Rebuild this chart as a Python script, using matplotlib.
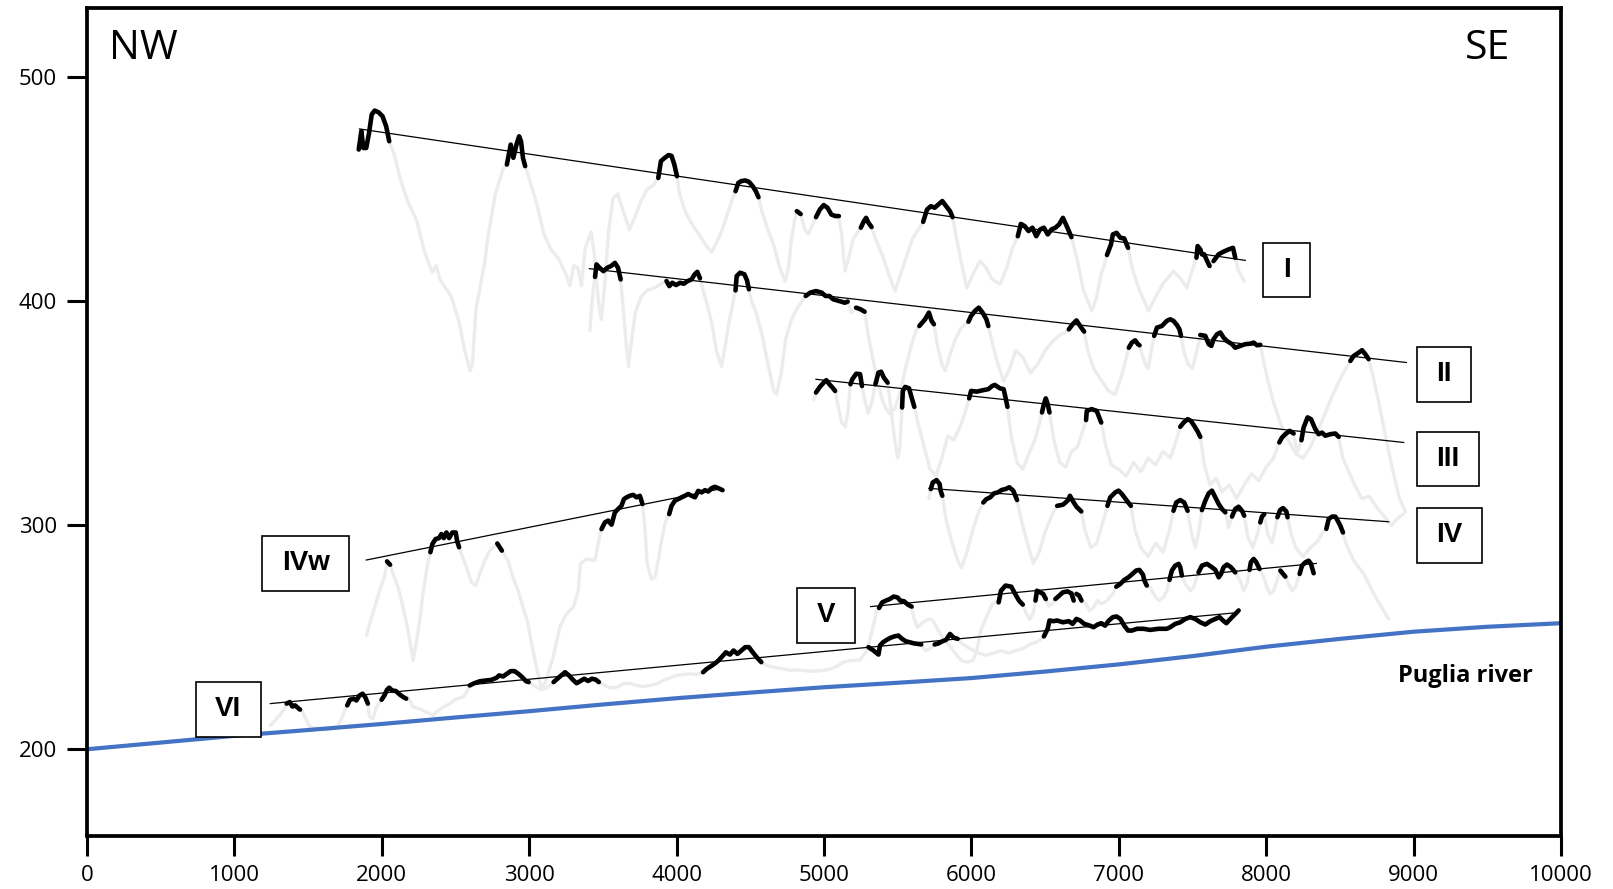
import numpy as np
import matplotlib
matplotlib.use("Agg")
import matplotlib.pyplot as plt
from matplotlib.path import Path

# ---------------- data ----------------
x_ticks = [0, 1000, 2000, 3000, 4000, 5000, 6000, 7000, 8000, 9000, 10000]
y_ticks = [200, 300, 400, 500]

river_x = [0, 500, 1000, 1500, 2000, 2500, 3000, 3500, 4000, 4500, 5000, 5500,
           6000, 6500, 7000, 7500, 8000, 8500, 9000, 9500, 10000]
river_y = [200, 203, 206, 208.6, 211.3, 214.2, 217, 220, 222.8, 225.3, 227.7, 229.7,
           231.8, 234.7, 237.9, 241.6, 245.8, 249.3, 252.5, 254.7, 256.3]

# trend lines of the terrace levels (start, end)
trend_I = [(1849, 477), (7858, 418.3)]
trend_II = [(3409, 414.6), (8951, 372.7)]
trend_III = [(4946, 365.2), (8933, 337)]
trend_IV = [(5712, 316.5), (8831, 301.6)]
trend_IVw = [(1895, 284.5), (4300, 316.3)]
trend_V = [(5317, 263.7), (8340, 283)]
trend_VI = [(1244, 220.4), (7800, 261)]

# terrace remnants (thick black)
rem_I = [
    [(1844, 467.8), (1862, 476), (1875, 468.5), (1895, 468.5), (1914, 475.2), (1932, 483.4), (1952, 485.2),
     (1979, 484.4), (2005, 482.7), (2030, 478.2), (2051, 471.5)],
    [(2849, 461.1), (2875, 470), (2893, 464.1), (2914, 470), (2932, 473.7), (2945, 471.5), (2958, 464.1), (2973, 460.4)],
    [(3876, 455.1), (3894, 462.6), (3920, 464.1), (3945, 465.3), (3966, 465), (3985, 461.1), (4003, 455.9)],
    [(4400, 449.2), (4419, 452.9), (4439, 453.7), (4465, 454), (4491, 453.4), (4517, 451.4), (4538, 449.2), (4556, 446.5)],
    [(4816, 440.3), (4842, 439)],
    [(4946, 437.6), (4972, 441), (4998, 443), (5024, 441.8), (5050, 438.8), (5076, 438.1), (5101, 438.1)],
    [(5250, 432.9), (5271, 435.8), (5286, 437.3), (5302, 435.1), (5323, 433.2)],
    [(5673, 435.5), (5699, 441), (5725, 442.5), (5751, 441.8), (5777, 443.3), (5803, 444.8), (5829, 442.5),
     (5855, 440.3), (5873, 437.6)],
    [(6315, 429.1), (6336, 434.6), (6362, 433.6), (6388, 431.4), (6414, 432.9), (6440, 429.1), (6466, 432.1),
     (6492, 432.9), (6518, 429.9), (6543, 432.1), (6570, 432.9), (6596, 434.4), (6621, 437.3), (6647, 433.6),
     (6679, 428.7)],
    [(6920, 420.7), (6947, 425.4), (6960, 429.9), (6985, 430.6), (7011, 428.4), (7037, 428.1), (7063, 423.9)],
    [(7527, 419.5), (7535, 424.7), (7553, 423.2), (7564, 421), (7580, 421), (7594, 418.8), (7616, 415.8)],
    [(7643, 418), (7677, 421), (7711, 422.2), (7745, 423.2), (7775, 423.9), (7790, 419.5)],
]
rem_II = [
    [(3447, 410.9), (3457, 416.5), (3478, 415), (3504, 413.5), (3530, 415), (3556, 415.8), (3582, 417.2),
     (3603, 415), (3621, 409.8)],
    [(3932, 409.1), (3951, 406.8), (3971, 408.3), (3997, 407.3), (4024, 408.3), (4050, 407.9), (4076, 409.1),
     (4102, 409.8), (4123, 412.1), (4141, 413.2), (4159, 410.3)],
    [(4400, 404.9), (4408, 411.3), (4431, 412.8), (4460, 412.1), (4478, 409.4), (4491, 405.4)],
    [(4876, 402.4), (4907, 403.9), (4946, 404.6), (4985, 403.9), (5011, 402.4), (5037, 402.4), (5063, 400.9),
     (5101, 400.2), (5141, 399.4), (5161, 399.9)],
    [(5218, 397.2), (5247, 396.5), (5276, 395.4)],
    [(5647, 389), (5686, 392), (5712, 395), (5730, 391.3), (5746, 389.8)],
    [(5980, 390.9), (5998, 393.5), (6024, 395.7), (6050, 397.2), (6076, 395), (6102, 392), (6115, 389)],
    [(6661, 387.5), (6687, 389.8), (6713, 391.5), (6738, 389), (6765, 386.5)],
    [(7068, 379.3), (7089, 381.6), (7111, 382.6), (7130, 380.9), (7141, 380.4)],
    [(7240, 384.6), (7259, 388.3), (7292, 389), (7326, 391.3), (7349, 392), (7371, 391.3), (7394, 389.5),
     (7412, 387.5), (7422, 384.6)],
    [(7553, 385), (7587, 384.6), (7610, 380.9), (7628, 380.1), (7643, 383.1), (7666, 385.3), (7689, 386.1),
     (7711, 383.8), (7734, 382.3), (7768, 380.9), (7790, 379.3), (7824, 380.1), (7858, 380.9), (7892, 381.1),
     (7915, 381.6), (7938, 380.4), (7960, 380.6)],
    [(8571, 373.4), (8593, 375.6), (8627, 377.1), (8650, 378.2), (8673, 376.4), (8695, 374.2)],
]
rem_III = [
    [(4946, 359.3), (4972, 361.8), (4998, 363.7), (5016, 364.8), (5037, 363), (5058, 361.5), (5076, 360)],
    [(5180, 363), (5192, 365.2), (5219, 367.7), (5245, 367.5), (5258, 362.2)],
    [(5349, 363), (5370, 368.2), (5388, 368.6), (5406, 366), (5432, 363.7)],
    [(5530, 352.6), (5535, 360), (5551, 361.8), (5577, 361.2), (5595, 357), (5613, 352.9)],
    [(5985, 356.7), (5998, 360), (6037, 359.7), (6076, 360.3), (6115, 360.8), (6141, 362.2), (6159, 362.7),
     (6193, 361.2), (6219, 360.8), (6232, 357), (6245, 352.9)],
    [(6479, 350.4), (6492, 354.1), (6505, 356.7), (6518, 354.1), (6530, 350.4)],
    [(6778, 347), (6783, 351.1), (6816, 351.9), (6850, 351.1), (6881, 345.9)],
    [(7417, 344), (7440, 345.9), (7467, 347.4), (7490, 346.6), (7512, 344.4), (7535, 341.9), (7553, 339.5)],
    [(8089, 337), (8107, 339.2), (8130, 340.7), (8159, 342.2), (8186, 341)],
    [(8239, 338), (8254, 343.7), (8281, 348.2), (8304, 347.4), (8333, 343), (8356, 340.7), (8379, 341.4),
     (8401, 340), (8435, 340.7), (8469, 341), (8492, 339.5)],
]
rem_IV = [
    [(5725, 316.2), (5738, 319.1), (5764, 320.2), (5785, 318.4), (5791, 315.5), (5803, 313.2)],
    [(6081, 310.2), (6102, 311.7), (6128, 312.5), (6154, 314.3), (6180, 314.7), (6206, 315.8), (6232, 316.2),
     (6257, 317), (6284, 315.5), (6310, 311.3)],
    [(6582, 308.7), (6621, 309.2), (6653, 311), (6669, 313.2), (6687, 311), (6713, 308.3), (6746, 306.2)],
    [(6923, 308.7), (6942, 312.5), (6976, 314.7), (6998, 315.5), (7021, 314), (7055, 311), (7082, 308.7)],
    [(7371, 306.5), (7390, 310.2), (7417, 311.3), (7444, 310.2), (7467, 306.5)],
    [(7564, 306.8), (7587, 311), (7610, 314.3), (7632, 315.5), (7655, 312.5), (7678, 309.5), (7700, 307.3),
     (7723, 305.8)],
    [(7768, 303.9), (7790, 307.3), (7813, 308.3), (7836, 306.5), (7851, 304.3)],
    [(7960, 301.3), (7971, 303.9), (7987, 305)],
    [(8076, 303.6), (8094, 306.8), (8114, 307.7), (8137, 306.2), (8145, 303.6)],
    [(8408, 298.4), (8424, 302.8), (8447, 303.9), (8469, 303.9), (8485, 302.1), (8503, 299.8), (8521, 296.8)],
]
rem_IVw = [
    [(2036, 283.9), (2057, 282.4)],
    [(2330, 288), (2344, 291.7), (2366, 293.9), (2389, 294.3), (2405, 296.1), (2421, 294.3), (2439, 296.8),
     (2457, 294.3), (2479, 296.8), (2502, 296.8), (2511, 293.1), (2525, 290.2)],
    [(2784, 291.9), (2815, 288.7)],
    [(3491, 298.3), (3514, 301.3), (3536, 302.1), (3559, 300.3), (3582, 305.8), (3604, 307.3), (3627, 308.8),
     (3643, 311.7), (3661, 312.5), (3683, 313.2), (3706, 313.6), (3729, 312.5), (3751, 313.2), (3769, 309.5)],
    [(3950, 305), (3966, 308.7), (3989, 311), (4011, 311.7), (4034, 312.5), (4057, 313.2), (4079, 314),
     (4102, 313.2), (4125, 312.5), (4147, 315.4), (4170, 314.7), (4193, 315.7), (4215, 315.1), (4238, 316.6),
     (4260, 317.2), (4283, 316.6), (4312, 315.7)],
]
rem_V = [
    [(5374, 263.1), (5395, 265.6), (5421, 266.4), (5447, 267.1), (5473, 268.2), (5499, 267.8), (5517, 266.4),
     (5543, 266.1), (5569, 264.6), (5595, 263.7)],
    [(6185, 265.6), (6201, 270.8), (6232, 273.1), (6271, 272.6), (6297, 269.4), (6323, 266.4), (6349, 264.6)],
    [(6435, 266.4), (6445, 270.8), (6466, 270.1), (6487, 269.4), (6505, 267.1)],
    [(6570, 267.1), (6596, 268.6), (6621, 270.1), (6653, 270.5), (6679, 269.6), (6694, 266.4)],
    [(6713, 269.4), (6731, 268.6), (6747, 266.4)],
    [(6983, 272.6), (7010, 273.8), (7037, 275.6), (7066, 276.8), (7096, 278.5), (7118, 279.8), (7140, 280.1),
     (7164, 278), (7174, 275.3), (7190, 273.1)],
    [(7344, 275.6), (7360, 279.8), (7383, 282), (7406, 282.8), (7417, 281.3), (7428, 277.6)],
    [(7541, 279), (7564, 282), (7598, 282.8), (7632, 281.3), (7655, 280.1), (7678, 276.8), (7694, 278.3),
     (7711, 281.3), (7734, 282.5), (7761, 281.3), (7790, 279)],
    [(7887, 280.1), (7896, 283.5), (7915, 285), (7933, 283.5), (7955, 280.5)],
    [(8096, 279.8), (8130, 277.1)],
    [(8227, 278.3), (8243, 282), (8266, 283.5), (8288, 284.2), (8304, 282.8), (8322, 278.6)],
]
rem_VI = [
    [(1355, 220.4), (1376, 221.1), (1394, 219.1), (1412, 219.6), (1446, 217.7)],
    [(1766, 219.6), (1784, 222.1), (1810, 222.6), (1828, 221.8), (1849, 224), (1870, 224.8), (1888, 223.3),
     (1906, 220.4)],
    [(1999, 222.1), (2018, 224), (2036, 226.6), (2051, 227.5), (2070, 226.3), (2096, 226), (2121, 224.5),
     (2147, 223.3), (2166, 222.6)],
    [(2597, 228.5), (2628, 229.5), (2667, 230.4), (2706, 230.7), (2745, 231), (2778, 231.9), (2797, 233),
     (2823, 232.5), (2849, 233.7), (2875, 234.9), (2901, 234.9), (2927, 233.7), (2953, 232.2), (2979, 230.4),
     (2997, 230)],
    [(3166, 230), (3192, 231.5), (3218, 233), (3244, 234.4), (3270, 233), (3296, 231.1), (3322, 229.5),
     (3348, 230.5), (3374, 231.5), (3400, 230.5), (3426, 231.5), (3452, 231.1), (3473, 230)],
    [(4180, 234.4), (4205, 235.9), (4231, 237), (4258, 238.2), (4284, 239.6), (4309, 241.4), (4335, 243.3),
     (4362, 242.3), (4387, 244.1), (4413, 242.6), (4440, 244.1), (4466, 245.6), (4491, 245.6), (4517, 243.3),
     (4544, 241.1), (4575, 238.9)],
    [(5302, 245.6), (5336, 244.1), (5370, 242.3), (5380, 246.3), (5401, 247.8), (5427, 248.9), (5452, 249.8),
     (5478, 250.4), (5505, 250.8), (5530, 249.3), (5556, 248.2), (5582, 247.8), (5609, 247.3), (5634, 247.1),
     (5660, 246.8)],
    [(5751, 246.8), (5777, 247.3), (5803, 248.2), (5829, 248.9), (5855, 251.5), (5881, 249.8), (5907, 249.3)],
    [(6492, 250.4), (6518, 253.8), (6530, 257.5), (6557, 257.2), (6582, 257.5), (6621, 256.7), (6661, 257.2),
     (6687, 256), (6713, 258.2), (6738, 257.5), (6765, 256), (6804, 255.2), (6829, 254.5), (6856, 255.7),
     (6881, 256.3), (6907, 255.2), (6933, 257.5), (6960, 259), (6985, 259.3), (7011, 258.2), (7037, 255.2),
     (7063, 253), (7089, 253), (7123, 253.8), (7168, 253.8), (7213, 253.3), (7270, 253.8), (7326, 253.8),
     (7349, 254.5), (7383, 256), (7417, 256.7), (7451, 258.2), (7485, 259), (7519, 258.2), (7553, 256.7),
     (7587, 255.7), (7621, 257.2), (7655, 258.2), (7684, 259), (7707, 257.5), (7730, 256.3), (7757, 258.2),
     (7779, 259.7), (7802, 261.2), (7813, 262)],
]

# topographic profile (light grey) between the remnants
gray_I = [(2083, 466), (2129, 454), (2174, 445), (2238, 436), (2290, 422), (2343, 413), (2370, 416), (2394, 410),
          (2472, 402), (2524, 391), (2563, 378), (2600, 369), (2615, 372), (2640, 397), (2667, 406), (2700, 418),
          (2719, 428), (2771, 448), (2823, 459),
          (3000, 455), (3050, 444), (3100, 430), (3150, 423), (3200, 419), (3250, 412), (3277, 407), (3303, 416),
          (3330, 415), (3355, 407), (3381, 424), (3420, 431), (3445, 420), (3470, 400), (3490, 392), (3510, 405),
          (3540, 432), (3570, 446), (3600, 448), (3640, 440), (3680, 432), (3720, 438), (3760, 445), (3800, 450),
          (3845, 452),
          (4020, 448), (4060, 440), (4100, 435), (4150, 430), (4200, 425), (4238, 422), (4270, 426), (4310, 432),
          (4350, 440), (4380, 446),
          (4580, 440), (4620, 432), (4660, 425), (4700, 415), (4736, 409), (4760, 415), (4780, 428), (4800, 436),
          (4870, 432), (4894, 430), (4920, 434),
          (5120, 430), (5143, 413.5), (5170, 420), (5200, 428), (5230, 431),
          (5350, 428), (5400, 420), (5440, 412), (5482, 404.6), (5520, 412), (5560, 420), (5600, 428), (5640, 432),
          (5900, 428), (5930, 418), (5969, 406), (6010, 412), (6059, 418), (6100, 415), (6140, 410), (6195, 407.6),
          (6240, 415), (6280, 424),
          (6720, 418), (6760, 405), (6817, 395.7), (6850, 402), (6880, 412), (6905, 417),
          (7090, 415), (7140, 405), (7202, 395.7), (7250, 402), (7300, 408), (7372, 413.5), (7420, 410),
          (7462, 406.1), (7490, 412), (7515, 417),
          (7810, 414), (7835, 411), (7850, 409)]
gray_II = [(3412, 386.8), (3425, 398), (3437, 406),
           (3640, 395), (3660, 380), (3675, 371), (3690, 380), (3720, 395), (3760, 402), (3800, 405), (3850, 406),
           (3900, 408),
           (4180, 405), (4210, 398), (4240, 390), (4270, 378), (4306, 371), (4330, 380), (4360, 392), (4385, 400),
           (4510, 400), (4540, 395), (4580, 385), (4620, 372), (4660, 360), (4679, 358.5), (4710, 368), (4740, 383),
           (4780, 392), (4820, 397), (4850, 400),
           (5185, 395),
           (5300, 385), (5330, 375), (5360, 365), (5400, 355), (5440, 350), (5480, 352), (5520, 360), (5560, 372),
           (5600, 382), (5625, 387),
           (5770, 380), (5800, 372), (5822, 369), (5850, 375), (5890, 383), (5930, 388), (5960, 390),
           (6140, 382), (6180, 372), (6218, 364.5), (6260, 370), (6300, 378), (6350, 375), (6400, 368), (6450, 372),
           (6500, 378), (6550, 382), (6600, 385), (6635, 386),
           (6790, 378), (6830, 370), (6880, 365), (6930, 360), (6976, 358.5), (7010, 365), (7040, 372), (7060, 377),
           (7160, 376), (7180, 372), (7200, 370), (7220, 378),
           (7440, 378), (7470, 372), (7500, 370), (7530, 378),
           (7980, 374), (8010, 365), (8050, 355), (8100, 345), (8150, 338), (8200, 332), (8250, 330), (8300, 335),
           (8350, 342), (8400, 350), (8450, 358), (8500, 365), (8540, 370),
           (8720, 368), (8760, 356), (8800, 343), (8850, 327), (8900, 313), (8945, 306)]
gray_III = [(4930, 356),
            (5100, 352), (5120, 346), (5145, 344), (5165, 352),
            (5280, 355), (5300, 350), (5325, 355),
            (5455, 352), (5480, 338), (5500, 330), (5515, 335),
            (5640, 345), (5680, 335), (5720, 325), (5760, 322), (5800, 330), (5840, 340), (5880, 338), (5930, 345),
            (5965, 352),
            (6270, 340), (6310, 328), (6350, 325), (6390, 332), (6430, 338), (6460, 345),
            (6560, 338), (6600, 328), (6640, 326), (6680, 333), (6720, 335), (6755, 342),
            (6910, 336), (6950, 327), (7000, 325), (7050, 322), (7100, 328), (7150, 324), (7200, 330), (7250, 327),
            (7300, 333), (7350, 330), (7390, 338),
            (7580, 327), (7620, 318), (7660, 321), (7700, 315), (7750, 318), (7800, 312), (7850, 318), (7900, 323),
            (7950, 320), (8000, 326), (8050, 330),
            (8210, 332),
            (8520, 330), (8560, 324), (8600, 318), (8650, 312), (8700, 313), (8750, 308), (8800, 304), (8850, 300),
            (8890, 303), (8930, 305)]
gray_IV = [(5712, 312),
           (5830, 302), (5870, 292), (5910, 284), (5933, 281), (5970, 288), (6010, 298), (6050, 306),
           (6340, 302), (6380, 292), (6420, 283), (6460, 288), (6500, 297), (6550, 305),
           (6770, 298), (6810, 290), (6850, 292), (6890, 301),
           (7110, 298), (7150, 290), (7200, 286), (7250, 292), (7300, 288), (7345, 298),
           (7495, 296), (7520, 290), (7545, 298),
           (7745, 299),
           (7875, 295), (7910, 290), (7940, 296),
           (8010, 296), (8040, 292), (8060, 298),
           (8170, 296), (8200, 290), (8250, 286), (8300, 290), (8350, 293), (8385, 297),
           (8540, 292), (8594, 284.2), (8662, 278.3), (8730, 269.4), (8797, 261.9), (8831, 258.2)]
gray_IVw = [(1896, 250.8), (1918, 256), (1952, 263.4), (1986, 270.8), (2020, 277.5),
            (2077, 278.3), (2111, 272.3), (2145, 263.4), (2179, 253), (2213, 239.6), (2235, 247.8), (2258, 257.5),
            (2280, 269.4), (2308, 281.3),
            (2541, 287.2), (2575, 281.2), (2609, 274.6), (2638, 273.1), (2665, 278.3), (2699, 284.2), (2733, 288.7),
            (2770, 291),
            (2857, 284.2), (2891, 276.8), (2925, 270.8), (2959, 263.4), (2993, 256), (3016, 247.4), (3050, 236.7),
            (3084, 227), (3110, 230), (3163, 241.1), (3208, 254.5), (3253, 260.4), (3299, 263.4), (3333, 270.8),
            (3348, 282.7), (3389, 285), (3446, 284.2), (3468, 291.7), (3485, 297),
            (3785, 299.1), (3801, 282.7), (3830, 276), (3853, 276.8), (3876, 284.2), (3898, 293.1), (3921, 300.6),
            (3940, 304)]
gray_V = [(5296, 245.6), (5322, 251.5), (5345, 258), (5362, 263),
          (5608, 259), (5634, 254.5), (5673, 256.7), (5712, 258.2), (5738, 257.5), (5764, 254.5), (5803, 250),
          (5842, 247.1), (5894, 242.6), (5933, 239.6), (5972, 238.9), (6011, 239.6), (6037, 244.1), (6063, 253),
          (6102, 259), (6141, 264.9), (6170, 266),
          (6370, 261), (6395, 258), (6420, 261),
          (6525, 264), (6550, 265),
          (6777, 264.9), (6803, 261.9), (6829, 263.4), (6855, 266.4), (6881, 264.9), (6920, 266.4), (6959, 269.4),
          (7213, 272.3), (7236, 269.4), (7270, 266.4), (7304, 267.9), (7327, 270.8),
          (7451, 273.8), (7485, 270.8), (7508, 272.3), (7525, 276),
          (7824, 275.3), (7847, 270.8), (7870, 273.8),
          (7983, 276.8), (8005, 272.3), (8028, 269.4), (8051, 270.8), (8073, 275.3),
          (8152, 273.8), (8175, 270.8), (8198, 272.3)]
gray_VI = [(1244, 210.6), (1277, 212.9), (1316, 215.8), (1340, 218),
           (1459, 217.3), (1485, 213.6), (1511, 210.2), (1563, 209.1), (1615, 208.7), (1667, 209.1), (1706, 210.6),
           (1732, 214.4), (1752, 218),
           (1918, 214.4), (1941, 213.6), (1964, 218.8), (1985, 221),
           (2179, 223.3), (2213, 218.8), (2258, 218.1), (2303, 216.6), (2348, 215.1), (2382, 217.3), (2416, 218.8),
           (2461, 220.3), (2507, 222.5), (2552, 223.3), (2580, 226),
           (3016, 229.2), (3050, 227.7), (3084, 226.6), (3118, 227.4), (3150, 229),
           (3514, 228.5), (3548, 227.4), (3593, 227.7), (3638, 229.2), (3683, 229.5), (3729, 228.5), (3774, 228),
           (3819, 228.5), (3864, 229.2), (3910, 230.7), (3955, 231.9), (4000, 233), (4045, 233.4), (4091, 233.7),
           (4136, 233.4), (4165, 234),
           (4588, 238.2), (4634, 237), (4679, 236.4), (4724, 235.9), (4770, 235.2), (4815, 235.5), (4860, 235.2),
           (4905, 234.9), (4951, 234.9), (4996, 235.2), (5041, 235.8), (5086, 237), (5132, 238.9), (5177, 239.6),
           (5245, 239.9), (5280, 243),
           (5690, 244), (5720, 245),
           (5940, 247), (5990, 245), (6050, 243), (6100, 242), (6150, 243), (6200, 244), (6250, 243), (6300, 244),
           (6350, 245), (6400, 247), (6450, 248)]

# label boxes: (text, x, y)
labels = [("I", 8139, 414.0), ("II", 9205, 367.5), ("III", 9235, 329.6), ("IV", 9242, 295.5),
          ("IVw", 1485, 283.0), ("V", 5013, 259.8), ("VI", 960, 217.8)]

# ---------------- drawing ----------------
W, H, DPI = 1613, 889, 100
fig = plt.figure(figsize=(W / DPI, H / DPI), dpi=DPI)
ax = fig.add_axes([86.9 / W, 1 - 835.5 / H, (1561 - 86.9) / W, (835.5 - 8) / H])
ax.set_xlim(0, 10000)
ax.set_ylim(161.5, 531)

GRAY = "#ececec"


def profile(rems, valleys):
    chunks = [list(r) for r in rems] + [[p] for p in valleys]
    chunks.sort(key=lambda c: c[0][0])
    pts = [p for c in chunks for p in c]
    return [p[0] for p in pts], [p[1] for p in pts]


groups = [(rem_I, gray_I, trend_I), (rem_II, gray_II, trend_II), (rem_III, gray_III, trend_III),
          (rem_IV, gray_IV, trend_IV), (rem_IVw, gray_IVw, trend_IVw), (rem_V, gray_V, trend_V),
          (rem_VI, gray_VI, trend_VI)]

for rems, valleys, trend in groups:
    gx, gy = profile(rems, valleys)
    ax.plot(gx, gy, color=GRAY, lw=2.4, solid_joinstyle="round", solid_capstyle="round", zorder=1)

ax.plot(river_x, river_y, color="#4472C4", lw=3.0, zorder=2, solid_capstyle="butt")

for rems, valleys, trend in groups:
    ax.plot([trend[0][0], trend[1][0]], [trend[0][1], trend[1][1]], color="black", lw=0.9, zorder=3)
    for r in rems:
        ax.plot([p[0] for p in r], [p[1] for p in r], color="black", lw=3.3,
                solid_joinstyle="round", solid_capstyle="round", zorder=4)


class PadBox:
    def __init__(self, padx, pady):
        self.padx = padx
        self.pady = pady

    def __call__(self, x0, y0, width, height, mutation_size):
        px = self.padx * mutation_size
        py = self.pady * mutation_size
        x0, y0 = x0 - px, y0 - py
        x1, y1 = x0 + width + 2 * px, y0 + height + 2 * py
        return Path([(x0, y0), (x1, y0), (x1, y1), (x0, y1), (x0, y0)], closed=True)


for txt, lx, ly in labels:
    ax.text(lx, ly, txt, ha="center", va="center", fontsize=20, fontweight="bold",
            family=["Liberation Sans", "DejaVu Sans"], zorder=6,
            bbox=dict(boxstyle=PadBox(0.70, 0.52), fc="white", ec="black", lw=1.2))

ax.text(0.0153, 0.951, "NW", transform=ax.transAxes, ha="left", va="center",
        fontsize=29.5, family=["Open Sans", "DejaVu Sans"])
ax.text(0.9657, 0.951, "SE", transform=ax.transAxes, ha="right", va="center",
        fontsize=29.5, family=["Open Sans", "DejaVu Sans"])
ax.text(0.9808, 0.186, "Puglia river", transform=ax.transAxes, ha="right", va="baseline",
        fontsize=17, fontweight="bold", family=["Open Sans", "DejaVu Sans"])

for s in ax.spines.values():
    s.set_linewidth(2.7)
ax.set_xticks(x_ticks)
ax.set_yticks(y_ticks)
ax.set_xticklabels([str(v) for v in x_ticks])
ax.set_yticklabels([str(v) for v in y_ticks])
ax.tick_params(axis="both", direction="out", length=14.4, width=2.2, pad=7, labelsize=16)
for lab in ax.get_xticklabels() + ax.get_yticklabels():
    lab.set_family(["Open Sans", "DejaVu Sans"])

fig.savefig("out.png", dpi=DPI)
